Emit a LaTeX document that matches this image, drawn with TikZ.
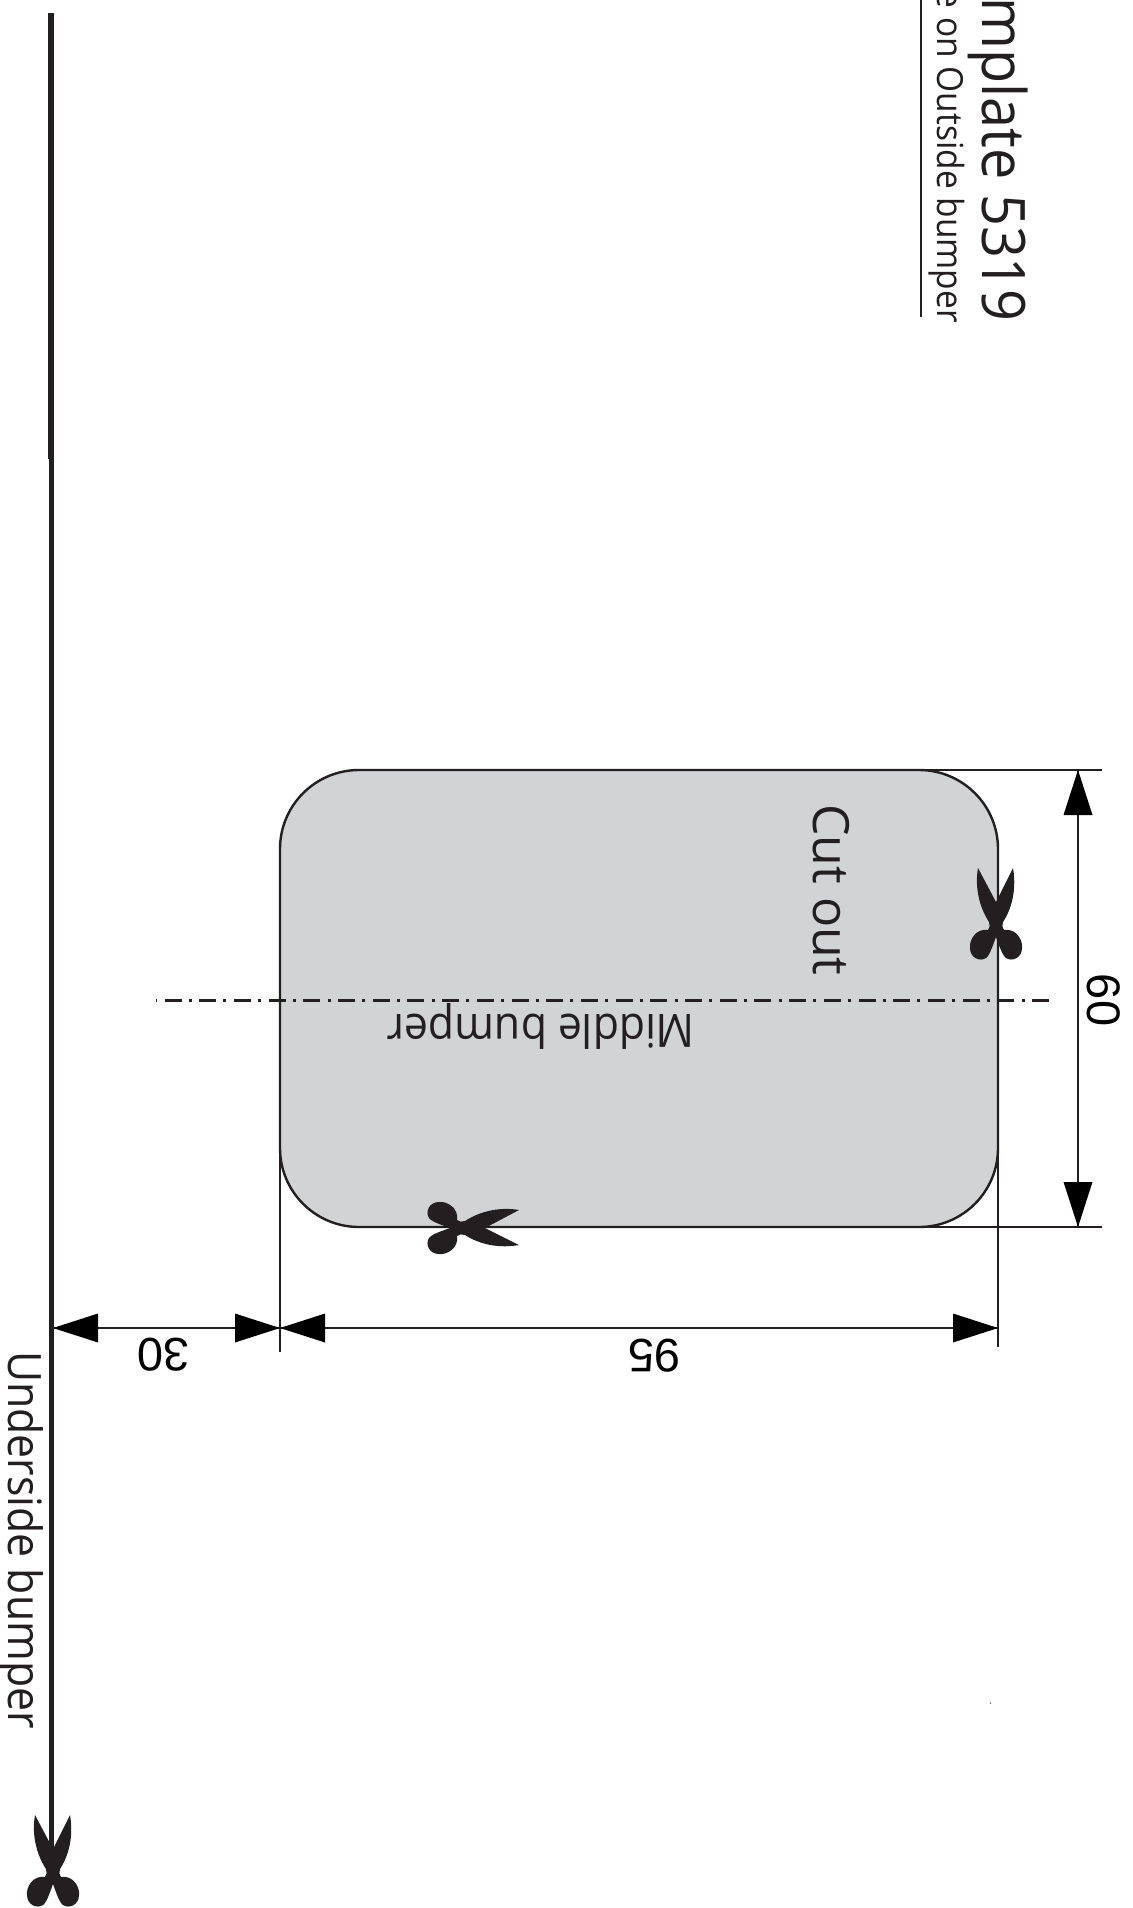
\documentclass[tikz,border=0pt]{standalone}
\usepackage{fontspec}
\setmainfont{Open Sans}
\newfontfamily\narrowfont[FakeStretch=0.93]{Open Sans}
\newfontfamily\dimfont{Liberation Sans}
\definecolor{ink}{HTML}{231F20}
\definecolor{panel}{HTML}{D1D3D4}
\tikzset{
  label text/.style={inner sep=0pt,text=ink,font=\narrowfont\fontsize{#1}{#1}\selectfont},
  wide text/.style={inner sep=0pt,text=ink,font=\fontsize{#1}{#1}\selectfont},
  dim text/.style={inner sep=0pt,text=black,font=\dimfont\fontsize{47}{47}\selectfont},
  dim line/.style={draw=ink,line width=1.1pt},
  head/.style={fill=black,draw=none},
  cutter/.style={fill=ink,draw=none},
}
\newcommand{\arrowR}[2]{\fill[head] (#1,#2) -- ++(-45,-14.5) -- ++(0,29) -- cycle;}
\newcommand{\arrowL}[2]{\fill[head] (#1,#2) -- ++(45,-14.5) -- ++(0,29) -- cycle;}
\newcommand{\arrowD}[2]{\fill[head] (#1,#2) -- ++(-14.5,-45) -- ++(29,0) -- cycle;}
\newcommand{\arrowU}[2]{\fill[head] (#1,#2) -- ++(-14.5,45) -- ++(29,0) -- cycle;}
\newcommand{\cutmark}[3]{%
  \fill[cutter,shift={(#1,#2)},rotate=#3]
    (-18,-52) -- (0,-18) -- (17,-52)
    .. controls (20,-35) and (18,-15) .. (7,2)
    .. controls (6,5) and (6,8) .. (8,10)
    .. controls (20,8) and (27,20) .. (26,28)
    .. controls (26,38) and (16,42) .. (10,38)
    .. controls (6,35) and (3,25) .. (0,17)
    .. controls (-3,25) and (-6,35) .. (-10,38)
    .. controls (-16,42) and (-26,38) .. (-26,28)
    .. controls (-27,20) and (-20,8) .. (-8,10)
    .. controls (-6,8) and (-6,5) .. (-7,2)
    .. controls (-18,-15) and (-21,-35) .. (-18,-52) -- cycle;}
\begin{document}
\begin{tikzpicture}[x=1pt,y=-1pt]
\useasboundingbox (0,0) rectangle (1132,1908);
\fill[white] (0,0) rectangle (1132,1908);

% panel
\path[fill=panel,draw=ink,line width=2.4pt,rounded corners=79pt] (280,770) rectangle (998,1227);

% extension lines
\draw[dim line] (900,770) -- (1102,770);
\draw[dim line] (900,1227) -- (1102,1227);
\draw[dim line] (280,1150) -- (280,1352);
\draw[dim line] (998,1150) -- (998,1347);

% dimension lines
\draw[dim line] (1078,770) -- (1078,1227);
\draw[dim line] (54,1328) -- (998,1328);
\arrowU{1078}{770}
\arrowD{1078}{1227}
\arrowL{53}{1328}
\arrowR{280}{1328}
\arrowL{280}{1328}
\arrowR{998}{1328}

% centre line
\draw[draw=ink,line width=2.5pt,dash pattern=on 17pt off 7.5pt on 3pt off 7.2pt] (1049,1000.5) -- (156,1000.5);

% long rule
\draw[draw=ink,line width=6pt] (51,13) -- (51,459);
\draw[draw=ink,line width=4.7pt] (51.7,459) -- (51.7,1850);
\draw[draw=ink,line width=2pt] (921,0) -- (921,317);

% cut marks
\cutmark{996}{920}{0}
\cutmark{467}{1228}{-90}
\cutmark{53}{1867}{0}

% speck
\fill[gray] (989.5,1702) rectangle (991,1704);

% labels
\node[label text=60,rotate=-90,anchor=base east] (title) at (982,322) {mplate 5319};
\node[label text=36,rotate=-90,anchor=base east] (note) at (937,323) {e on Outside bumper};
\node[wide text=50,rotate=-90,anchor=base west] (cut) at (813,804) {Cut out};
\node[label text=46,rotate=180,anchor=base] (mid) at (541,1014) {Middle bumper};
\node[label text=46,rotate=-90,anchor=base west] (under) at (9,1351) {Underside bumper};
\node[dim text,rotate=-90,anchor=base] (d60) at (1087,1000) {60};
\node[dim text,rotate=180,anchor=base] (d95) at (654,1339) {95};
\node[dim text,rotate=180,anchor=base] (d30) at (163,1338) {30};
\end{tikzpicture}
\end{document}
